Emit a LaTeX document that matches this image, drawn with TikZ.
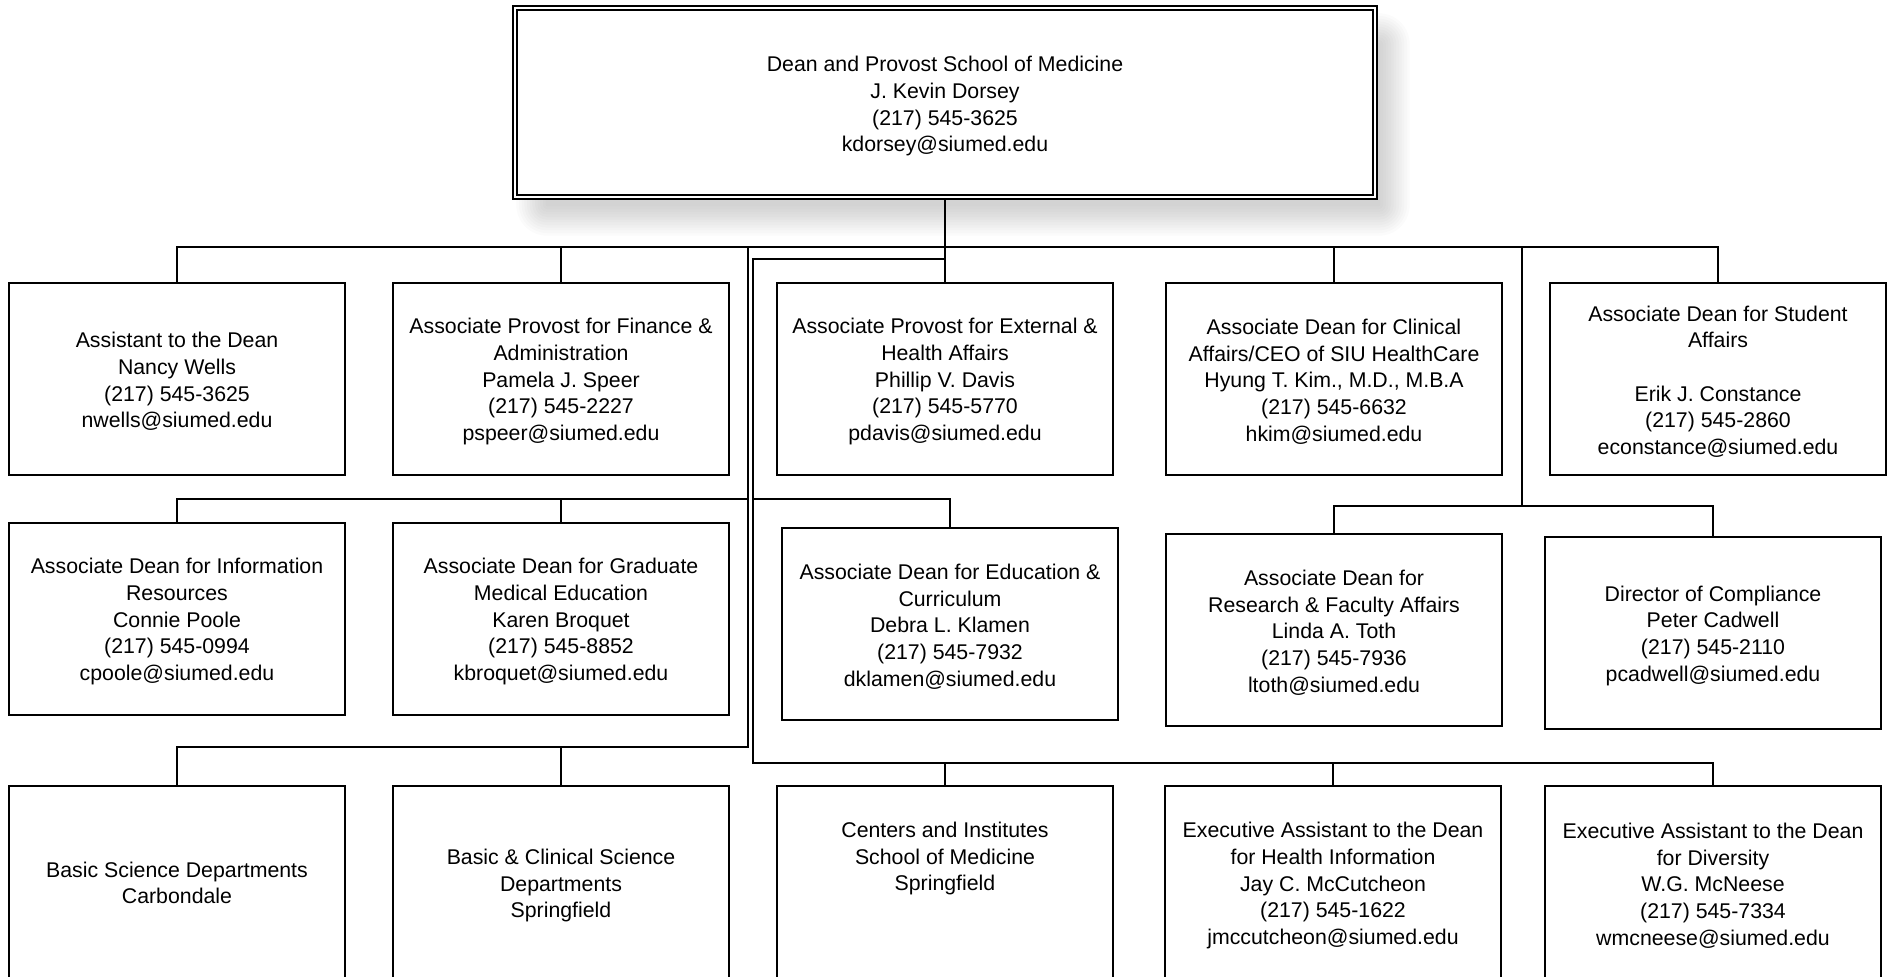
\documentclass[tikz,border=0pt]{standalone}
\usepackage{fontspec}
\setmainfont{Liberation Sans}
\newcommand\mytopstrut{\rule{0pt}{20.8pt}}
\begin{document}
\begin{tikzpicture}[x=1pt,y=-1pt,
  box/.style={draw, line width=2pt, fill=white, minimum width=336pt, minimum height=192pt,
    align=center, inner sep=0pt, font=\fontsize{21.3pt}{26.7pt}\selectfont},
  lowbox/.style={box, minimum height=194pt},
  lnk/.style={line width=2pt}]
\path[use as bounding box] (0,0) rectangle (1893,977);
\clip (0,0) rectangle (1893,977);

% soft drop shadow of the top box
\foreach \k in {0,...,11}{
  \pgfmathsetmacro{\e}{-16+(\k+0.5)*32/12}
  \pgfmathsetmacro{\rc}{max(0.5,\e+16)}
  \fill[black, fill opacity=0.016, rounded corners=\rc pt]
    ({531-(\e)},{28-(\e)}) rectangle ({1395+(\e)},{221+(\e)});
}

\node[box, minimum width=864pt, minimum height=193pt] (dean) at (945,102.5)
  {\rule{0pt}{23pt}Dean and Provost School of Medicine\\J. Kevin Dorsey\\(217) 545-3625\\kdorsey@siumed.edu};
\draw[line width=1.3pt] ([shift={(5pt,-5pt)}]dean.north west) rectangle ([shift={(-5pt,5pt)}]dean.south east);

% row 1
\node[box] (r1a) at (177,379) {\mytopstrut Assistant to the Dean\\Nancy Wells\\(217) 545-3625\\nwells@siumed.edu};
\node[box] (r1b) at (561,379) {\mytopstrut Associate Provost for Finance \&\\Administration\\Pamela J. Speer\\(217) 545-2227\\pspeer@siumed.edu};
\node[box] (r1c) at (945,379) {\mytopstrut Associate Provost for External \&\\Health Affairs\\Phillip V. Davis\\(217) 545-5770\\pdavis@siumed.edu};
\node[box] (r1d) at (1334,379) {\mytopstrut Associate Dean for Clinical\\Affairs/CEO of SIU HealthCare\\Hyung T. Kim., M.D., M.B.A\\(217) 545-6632\\hkim@siumed.edu};
\node[box] (r1e) at (1718,379) {\mytopstrut Associate Dean for Student\\Affairs\\\mbox{}\\Erik J. Constance\\(217) 545-2860\\econstance@siumed.edu};

% row 2
\node[box] (r2a) at (177,619) {\mytopstrut Associate Dean for Information\\Resources\\Connie Poole\\(217) 545-0994\\cpoole@siumed.edu};
\node[box] (r2b) at (561,619) {\mytopstrut Associate Dean for Graduate\\Medical Education\\Karen Broquet\\(217) 545-8852\\kbroquet@siumed.edu};
\node[box] (r2c) at (950,624) {\mytopstrut Associate Dean for Education \&\\Curriculum\\Debra L. Klamen\\(217) 545-7932\\dklamen@siumed.edu};
\node[box] (r2d) at (1334,630) {\mytopstrut Associate Dean for\\Research \& Faculty Affairs\\Linda A. Toth\\(217) 545-7936\\ltoth@siumed.edu};
\node[box] (r2e) at (1713,633) {\mytopstrut Director of Compliance\\Peter Cadwell\\(217) 545-2110\\pcadwell@siumed.edu};

% row 3
\node[lowbox] (r3a) at (177,883) {Basic Science Departments\\Carbondale};
\node[lowbox] (r3b) at (561,883) {\mytopstrut Basic \& Clinical Science\\Departments\\Springfield};
\node[lowbox] (r3c) at (945,883) {Centers and Institutes\\School of Medicine\\Springfield\\\mbox{}\\\mbox{}};
\node[lowbox] (r3d) at (1333,883) {\mytopstrut Executive Assistant to the Dean\\for Health Information\\Jay C. McCutcheon\\(217) 545-1622\\jmccutcheon@siumed.edu};
\node[lowbox] (r3e) at (1713,883) {\mytopstrut Executive Assistant to the Dean\\for Diversity\\W.G. McNeese\\(217) 545-7334\\wmcneese@siumed.edu};

% connectors
\coordinate (b1) at (0,247);
\draw[lnk] (dean.south) -- (r1c.north);
\draw[lnk] (r1a.north) -- (r1a.north |- b1) -- (r1e.north |- b1) -- (r1e.north);
\draw[lnk] (r1b.north |- b1) -- (r1b.north);
\draw[lnk] (r1d.north |- b1) -- (r1d.north);

\coordinate (rb) at (1522,247);
\coordinate (rbend) at (1522,506);
\draw[lnk] (rb) -- (rbend);
\draw[lnk] (r2d.north) -- (r2d.north |- rbend) -- (r2e.north |- rbend) -- (r2e.north);

\coordinate (a0) at (748,247);
\coordinate (a1) at (748,499);
\coordinate (a2) at (748,747);
\draw[lnk] (a0) -- (a2) -- (r3a.north |- a2) -- (r3a.north);
\draw[lnk] (r3b.north |- a2) -- (r3b.north);
\draw[lnk] (a1) -- (r2a.north |- a1) -- (r2a.north);
\draw[lnk] (r2b.north |- a1) -- (r2b.north);

\coordinate (c0) at (945,259);
\coordinate (c1) at (753,259);
\coordinate (c2) at (753,499);
\coordinate (c3) at (753,763);
\draw[lnk] (c0) -- (c1) -- (c3) -- (r3e.north |- c3) -- (r3e.north);
\draw[lnk] (r3c.north |- c3) -- (r3c.north);
\draw[lnk] (r3d.north |- c3) -- (r3d.north);
\draw[lnk] (c2) -- (r2c.north |- c2) -- (r2c.north);
\end{tikzpicture}
\end{document}
